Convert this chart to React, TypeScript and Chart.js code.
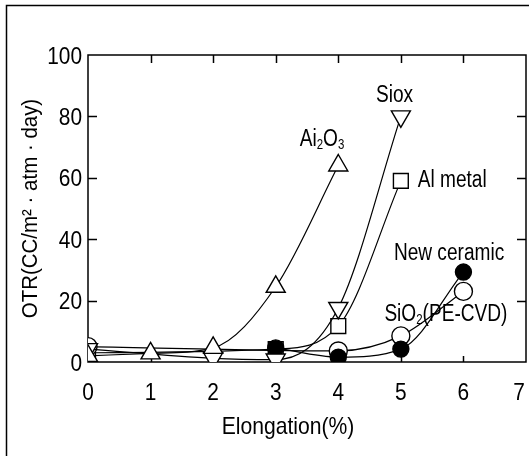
import React, { useEffect, useRef } from 'react';
import { Chart, registerables } from 'chart.js';
Chart.register(...registerables);

// ---- data ----
const xTickValues = [0, 1, 2, 3, 4, 5, 6, 7];
const yTickValues = [0, 20, 40, 60, 80, 100];

const al2o3X = [0, 1, 2, 3, 4];
const al2o3Y = [2, 2.8, 4.6, 24.5, 64];

const sioxX = [0, 2, 3, 4, 5];
const sioxY = [4.2, 1.2, 0.8, 17.6, 80];

const alMetalX = [0, 3, 4, 5];
const alMetalY = [3, 4.2, 11.7, 59];

const ceramicX = [3, 4, 5, 6];
const ceramicY = [4.6, 1.6, 4.2, 29.3];

const sio2X = [0, 4, 5, 6];
const sio2Y = [5, 3.6, 8.5, 23];

const xTitle = 'Elongation(%)';
const yTitle = 'OTR(CC/m² · atm · day)';

const seriesLabels = ['Siox', 'Al metal', 'New ceramic', 'SiO2(PE-CVD)', 'Al2O3'];
// label anchors in data units
const labelAnchorX = [4.9, 5.27, 5.77, 5.72, 3.74];
const labelAnchorY = [86.6, 59, 35.2, 15.3, 72.3];

const FONT = '"Liberation Sans", Arial, sans-serif';

const pts = (xs: number[], ys: number[]) => xs.map((x, i) => ({ x, y: ys[i] }));

function drawText(ctx: CanvasRenderingContext2D, text: string, x: number, y: number, size: number, align: CanvasTextAlign, sx: number, rot = 0) {
  ctx.save();
  ctx.translate(x, y);
  if (rot) ctx.rotate(rot);
  ctx.scale(sx, 1);
  ctx.font = `${size}px ${FONT}`;
  ctx.textAlign = align;
  ctx.textBaseline = 'middle';
  ctx.fillText(text, 0, 0);
  ctx.restore();
}

function drawRich(ctx: CanvasRenderingContext2D, segs: { t: string; sub?: boolean }[], x: number, y: number, size: number, align: 'left' | 'center', sx: number) {
  ctx.save();
  ctx.translate(x, y);
  ctx.scale(sx, 1);
  const widths = segs.map((s) => {
    ctx.font = `${s.sub ? size * 0.6 : size}px ${FONT}`;
    return ctx.measureText(s.t).width;
  });
  const total = widths.reduce((a, b) => a + b, 0);
  let cx = align === 'center' ? -total / 2 : 0;
  segs.forEach((s, i) => {
    ctx.font = `${s.sub ? size * 0.6 : size}px ${FONT}`;
    ctx.textBaseline = 'middle';
    ctx.textAlign = 'left';
    ctx.fillText(s.t, cx, s.sub ? size * 0.24 : 0);
    cx += widths[i];
  });
  ctx.restore();
}

const framePlugin = {
  id: 'framePlugin',
  beforeDraw(chart: any) {
    const ctx = chart.ctx;
    ctx.save();
    ctx.fillStyle = '#fff';
    ctx.fillRect(0, 0, chart.width, chart.height);
    ctx.strokeStyle = '#000';
    ctx.lineWidth = 1.5;
    ctx.beginPath();
    ctx.moveTo(6.5, 456);
    ctx.lineTo(6.5, 5.5);
    ctx.lineTo(529, 5.5);
    ctx.stroke();
    ctx.restore();
  },
  beforeDatasetsDraw(chart: any) {
    const { ctx, chartArea: a, scales } = chart;
    const xs = scales.x;
    const ys = scales.y;
    ctx.save();
    ctx.strokeStyle = '#000';
    ctx.lineWidth = 1.5;
    ctx.strokeRect(a.left, a.top, a.right - a.left, a.bottom - a.top);
    ctx.beginPath();
    xTickValues.slice(1, -1).forEach((v) => {
      const px = Math.round(xs.getPixelForValue(v)) + 0.5;
      ctx.moveTo(px, a.top);
      ctx.lineTo(px, a.top + 8);
      ctx.moveTo(px, a.bottom);
      ctx.lineTo(px, a.bottom - 6);
    });
    yTickValues.slice(1, -1).forEach((v) => {
      const py = Math.round(ys.getPixelForValue(v)) + 0.5;
      ctx.moveTo(a.left, py);
      ctx.lineTo(a.left + 9, py);
      ctx.moveTo(a.right, py);
      ctx.lineTo(a.right - 9, py);
    });
    ctx.stroke();

    // tick labels
    ctx.fillStyle = '#000';
    xTickValues.forEach((v, i) => {
      const shift = i === xTickValues.length - 1 ? -7 : 0;
      drawText(ctx, String(v), xs.getPixelForValue(v) + shift, a.bottom + 31, 24, 'center', 0.87);
    });
    yTickValues.forEach((v) => {
      drawText(ctx, String(v), a.left - 6, ys.getPixelForValue(v) + 2, 24, 'right', 0.87);
    });
    // axis titles
    drawText(ctx, xTitle, (a.left + a.right) / 2 - 19, a.bottom + 65, 24, 'center', 0.88);
    drawText(ctx, yTitle, 31, (a.top + a.bottom) / 2, 22, 'center', 0.93, -Math.PI / 2);
    ctx.restore();
  },
  afterDatasetsDraw(chart: any) {
    const { ctx, scales } = chart;
    ctx.save();
    ctx.fillStyle = '#000';
    const size = 23;
    seriesLabels.forEach((lab, i) => {
      const px = scales.x.getPixelForValue(labelAnchorX[i]);
      const py = scales.y.getPixelForValue(labelAnchorY[i]);
      let segs: { t: string; sub?: boolean }[];
      if (lab === 'Al2O3') segs = [{ t: 'Ai' }, { t: '2', sub: true }, { t: 'O' }, { t: '3', sub: true }];
      else if (lab === 'SiO2(PE-CVD)') segs = [{ t: 'SiO' }, { t: '2', sub: true }, { t: '(PE-CVD)' }];
      else segs = [{ t: lab }];
      drawRich(ctx, segs, px, py, size, lab === 'Al metal' ? 'left' : 'center', 0.83);
    });
    ctx.restore();
  },
};

export default function App() {
  const ref = useRef<HTMLCanvasElement | null>(null);
  useEffect(() => {
    if (!ref.current) return;
    const common = {
      showLine: true,
      borderColor: '#000',
      borderWidth: 1.2,
      pointBorderColor: '#000',
      pointBorderWidth: 1.4,
      cubicInterpolationMode: 'monotone' as const,
    };
    const chart = new Chart(ref.current, {
      type: 'scatter',
      data: {
        datasets: [
          { ...common, label: 'Al2O3', data: pts(al2o3X, al2o3Y), pointStyle: 'triangle', pointRadius: 11, pointBackgroundColor: '#fff', order: 1 },
          { ...common, label: 'Siox', data: pts(sioxX, sioxY), pointStyle: 'triangle', rotation: 180, pointRadius: 11, pointBackgroundColor: '#fff', order: 2 },
          { ...common, label: 'Al metal', data: pts(alMetalX, alMetalY), pointStyle: 'rect', pointRadius: 10.5, pointBackgroundColor: '#fff', order: 5 },
          { ...common, label: 'New ceramic', data: pts(ceramicX, ceramicY), pointStyle: 'circle', pointRadius: 8, pointBackgroundColor: '#000', order: 3 },
          { ...common, label: 'SiO2(PE-CVD)', data: pts(sio2X, sio2Y), pointStyle: 'circle', pointRadius: 9, pointBackgroundColor: '#fff', order: 4 },
        ] as any,
      },
      options: {
        animation: false,
        responsive: false,
        maintainAspectRatio: false,
        layout: { autoPadding: false, padding: { left: 0, top: 55, right: 3, bottom: 0 } },
        plugins: { legend: { display: false }, tooltip: { enabled: false } },
        scales: {
          x: {
            type: 'linear',
            min: 0,
            max: 7,
            afterFit: (s: any) => { s.height = 94; },
            grid: { display: false, drawTicks: false },
            border: { display: false },
            ticks: { stepSize: 1, display: false },
            title: { display: false },
          },
          y: {
            type: 'linear',
            min: 0,
            max: 100,
            afterFit: (s: any) => { s.width = 88; },
            grid: { display: false, drawTicks: false },
            border: { display: false },
            ticks: { stepSize: 20, display: false },
            title: { display: false },
          },
        },
      } as any,
      plugins: [framePlugin],
    });
    return () => chart.destroy();
  }, []);
  return (
    <div style={{ position: 'absolute', left: 0, top: 0, width: 529, height: 456, background: '#fff' }}>
      <canvas ref={ref} width={529} height={456} style={{ width: 529, height: 456, display: 'block' }} />
    </div>
  );
}
